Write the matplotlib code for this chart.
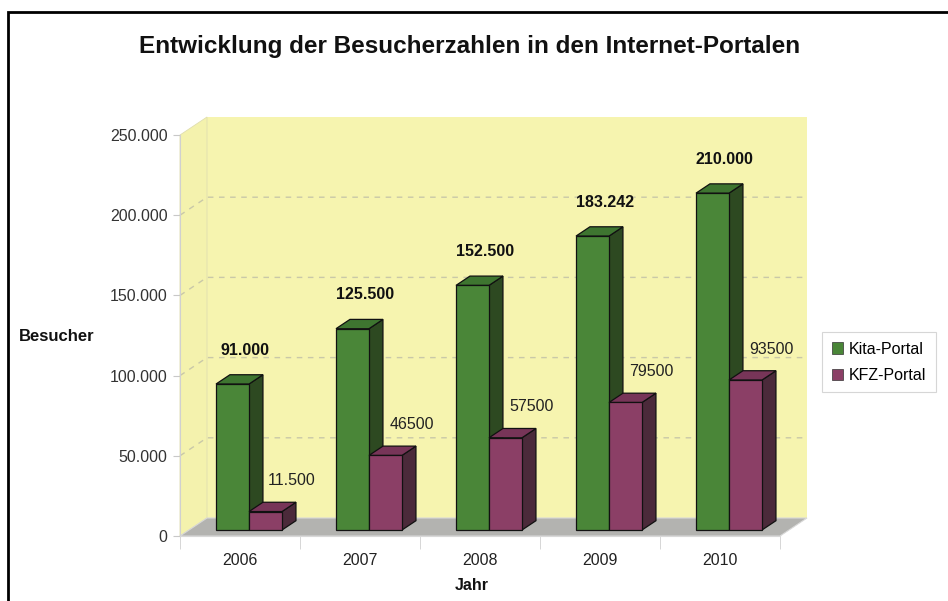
import matplotlib.pyplot as plt
from matplotlib.patches import Polygon, Rectangle
from matplotlib.lines import Line2D

plt.rcParams['font.family'] = ['Liberation Sans', 'DejaVu Sans']

# data
years = ['2006', '2007', '2008', '2009', '2010']
kita = [91000, 125500, 152500, 183242, 210000]
kfz = [11500, 46500, 57500, 79500, 93500]
kita_labels = ['91.000', '125.500', '152.500', '183.242', '210.000']
kfz_labels = ['11.500', '46500', '57500', '79500', '93500']

YMAX = 250000
DX = 0.225            # depth of the 3d box in category units
DY = YMAX * 18 / 401  # depth in value units
BW = 0.275            # bar width
D0, D1 = 1 / 3, 0.85  # bar depth range

green = ('#4a8638', '#3e7530', '#2d4921')
pink = ('#8b3f66', '#773558', '#4b2a3a')


def p(x, y, d):
    return (x + d * DX, y + d * DY)


fig = plt.figure(figsize=(9.48, 6.01), dpi=100)
ax = fig.add_axes([180 / 948, 65 / 601, 600 / 948, 401 / 601])
ax.set_xlim(-0.5, 4.5)
ax.set_ylim(0, YMAX)
ax.patch.set_visible(False)

x0, x1 = -0.5, 4.5
# back wall, side wall, floor
ax.add_patch(Polygon([p(x0, 0, 1), p(x1, 0, 1), p(x1, YMAX, 1), p(x0, YMAX, 1)],
                     closed=True, fc='#f6f4af', ec='none', clip_on=False, zorder=0))
ax.add_patch(Polygon([p(x0, 0, 0), p(x0, 0, 1), p(x0, YMAX, 1), p(x0, YMAX, 0)],
                     closed=True, fc='#f4f2ad', ec='#e0deb0', lw=0.6, clip_on=False, zorder=0))
ax.add_patch(Polygon([p(x0, 0, 0), p(x1, 0, 0), p(x1, 0, 1), p(x0, 0, 1)],
                     closed=True, fc='#b3b3b0', ec='#d8d8d8', lw=0.8, clip_on=False, zorder=1))

# grid lines on wall
for v in [50000, 100000, 150000, 200000]:
    xa, ya = p(x0, v, 0)
    xb, yb = p(x0, v, 1)
    xc, yc = p(x1, v, 1)
    ax.add_line(Line2D([xa, xb, xc], [ya, yb, yc], color='#c9c8a8', lw=1.0,
                       ls=(0, (4, 4)), clip_on=False, zorder=1))


def bar3d(xl, v, cols):
    front, top, side = cols
    xr = xl + BW
    ax.add_patch(Polygon([p(xr, 0, D0), p(xr, 0, D1), p(xr, v, D1), p(xr, v, D0)],
                         closed=True, fc=side, ec='#111111', lw=0.9, clip_on=False, zorder=3))
    ax.add_patch(Polygon([p(xl, v, D0), p(xr, v, D0), p(xr, v, D1), p(xl, v, D1)],
                         closed=True, fc=top, ec='#111111', lw=0.9, clip_on=False, zorder=3))
    ax.add_patch(Polygon([p(xl, 0, D0), p(xr, 0, D0), p(xr, v, D0), p(xl, v, D0)],
                         closed=True, fc=front, ec='#111111', lw=0.9, clip_on=False, zorder=3))


for i in range(len(years)):
    bar3d(i - BW, kita[i], green)
    bar3d(i, kfz[i], pink)
    ax.text(i + 0.04, kita[i] + D0 * DY + YMAX * 34 / 401, kita_labels[i],
            ha='center', va='center', fontsize=11.5, fontweight='bold', color='#111111', zorder=5)
    ax.text(i + 0.43, kfz[i] + D0 * DY + YMAX * 31 / 401, kfz_labels[i],
            ha='center', va='center', fontsize=11.5, color='#222222', zorder=5)

# axes styling
for s in ['top', 'right']:
    ax.spines[s].set_visible(False)
ax.spines['left'].set_color('#d0d0d0')
ax.spines['bottom'].set_color('#d8d8d8')
ax.set_yticks([0, 50000, 100000, 150000, 200000, 250000])
ax.set_yticklabels([f"{v:,.0f}".replace(',', '.') for v in ax.get_yticks()])
ax.set_xticks(range(len(years)))
ax.set_xticklabels(years)
ax.set_xticks([k - 0.5 for k in range(len(years) + 1)], minor=True)
ax.tick_params(axis='x', which='major', length=0, pad=12, labelsize=11.5, labelcolor='#222222')
ax.tick_params(axis='x', which='minor', length=9, color='#d0d0d0')
ax.tick_params(axis='y', length=5, color='#c8c8c8', pad=4, labelsize=11.5, labelcolor='#333333')

fig.text(470 / 948, 1 - 47 / 601, 'Entwicklung der Besucherzahlen in den Internet-Portalen',
         ha='center', va='center', fontsize=17.5, fontweight='bold', color='#111111')
fig.text(19 / 948, 1 - 337 / 601, 'Besucher', ha='left', va='center',
         fontsize=12, fontweight='bold', color='#111111')
fig.text(472 / 948, 1 - 586 / 601, 'Jahr', ha='center', va='center',
         fontsize=11.5, fontweight='bold', color='#111111')

# legend
handles = [Rectangle((0, 0), 1, 1, fc=green[0], ec='#333333', lw=0.5),
           Rectangle((0, 0), 1, 1, fc=pink[0], ec='#333333', lw=0.5)]
leg = fig.legend(handles, ['Kita-Portal', 'KFZ-Portal'], loc='upper left',
                 bbox_to_anchor=(822 / 948, 1 - 332 / 601), fontsize=11.5,
                 frameon=True, fancybox=False, edgecolor='#cccccc', borderaxespad=0,
                 handlelength=0.7, handleheight=0.7, handletextpad=0.4,
                 borderpad=0.6, labelspacing=0.7)
leg.get_frame().set_linewidth(0.8)

# outer frame
fig.add_artist(Rectangle((8 / 948, -0.1), 1.2, 0.98 + 0.1, transform=fig.transFigure,
                         fill=False, ec='black', lw=2))

fig.savefig('out.png', dpi=100)
